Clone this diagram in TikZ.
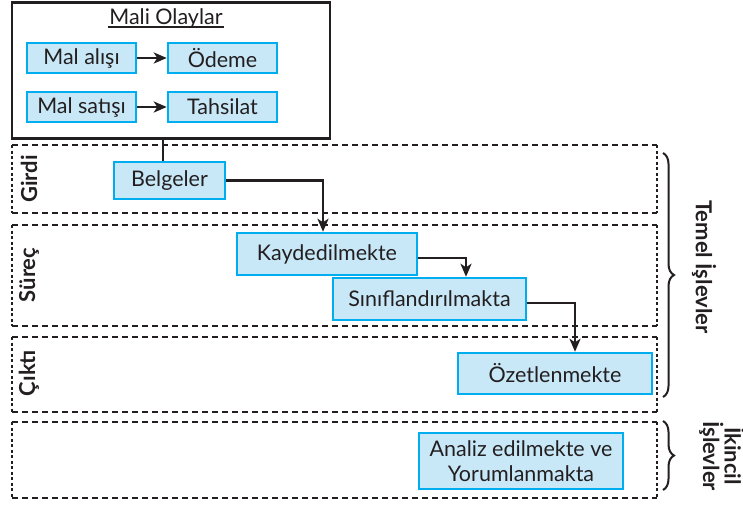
\documentclass[tikz,border=0pt]{standalone}
\usepackage{fontspec}
\setmainfont{Lato}
\usetikzlibrary{arrows.meta,decorations.pathreplacing}
\definecolor{kutumavi}{RGB}{200,232,248}
\definecolor{kenarmavi}{RGB}{0,174,239}
\definecolor{yazi}{RGB}{35,31,32}
\tikzset{
  kutu/.style={draw=kenarmavi, fill=kutumavi, line width=2.5pt, inner sep=0pt,
    text=yazi, font=\fontsize{21.5}{25}\selectfont, align=center},
  ok/.style={draw=yazi, line width=2.5pt, -{Stealth[length=13pt,width=11pt,inset=3.5pt]}},
  bolge/.style={draw=yazi, line width=2.2pt, dash pattern=on 6pt off 4pt},
  kenar/.style={draw=yazi, line width=2.2pt, dash pattern=on 3pt off 2.5pt},
  etiket/.style={text=yazi, font=\bfseries\fontsize{22}{26}\selectfont, rotate=90},
  parantez/.style={draw=yazi, line width=2pt,
    decorate, decoration={brace, amplitude=11pt}},
}
\begin{document}
\begin{tikzpicture}[x=1pt, y=-1pt]
\useasboundingbox (0,0) rectangle (743,504);
%
\node[draw=yazi, line width=2.5pt, minimum width=318pt, minimum height=136pt,
  inner sep=0pt] (mali) at (171,70.5) {}; % Mali olaylar
\node[text=yazi, font=\fontsize{21.5}{25}\selectfont, inner sep=1pt] (baslik) at (166,18)
  {Mali Olaylar};
\draw[draw=yazi, line width=1.8pt] ([yshift=2pt]baslik.south west)
  -- ([yshift=2pt]baslik.south east);
\node[kutu, minimum width=109pt, minimum height=30pt] (malalis) at (81.5,58) {Mal alışı};
\node[kutu, minimum width=109pt, minimum height=30pt] (odeme) at (222.5,58) {Ödeme};
\node[kutu, minimum width=109pt, minimum height=30pt] (malsatis) at (81.5,107) {Mal satışı};
\node[kutu, minimum width=109pt, minimum height=30pt] (tahsilat) at (222.5,107) {Tahsilat};
\draw[ok] (malalis) -- (odeme);
\draw[ok] (malsatis) -- (tahsilat);
%
\draw[bolge] (12,145) -- (657,145) (12,213) -- (657,213);
\draw[kenar] (12,145) -- (12,213) (657,145) -- (657,213); % Girdi
\draw[bolge] (12,225) -- (657,225) (12,326) -- (657,326);
\draw[kenar] (12,225) -- (12,326) (657,225) -- (657,326); % Süreç
\draw[bolge] (12,337) -- (657,337) (12,412) -- (657,412);
\draw[kenar] (12,337) -- (12,412) (657,337) -- (657,412); % Çıktı
\draw[bolge] (12,422) -- (657,422) (12,498) -- (657,498);
\draw[kenar] (12,422) -- (12,498) (657,422) -- (657,498); % ikincil
%
\node[etiket] (girdi) at (29,179) {Girdi};
\node[etiket] (surec) at (29,275) {Süreç};
\node[etiket] (cikti) at (29,373) {Çıktı};
%
\node[kutu, minimum width=111pt, minimum height=37pt] (belgeler) at (169.5,180.5) {Belgeler};
\node[kutu, minimum width=180pt, minimum height=42pt] (kaydedil) at (327,254) {Kaydedilmekte};
\node[kutu, minimum width=193pt, minimum height=42pt] (sinif) at (429.5,299) {Sınıflandırılmakta};
\node[kutu, minimum width=194pt, minimum height=41pt] (ozet) at (555,373.5) {Özetlenmekte};
\node[kutu, minimum width=204pt, minimum height=56pt] (analiz) at (521,461)
  {Analiz edilmekte ve\\Yorumlanmakta};
%
\draw[draw=yazi, line width=2.5pt] ([xshift=-8pt]mali.south)
  -- ([xshift=-8pt]mali.south |- belgeler.north);
\draw[ok] (belgeler.east) -| ([xshift=-4pt]kaydedil.north);
\draw[ok] ([yshift=-4pt]kaydedil.east) -| ([xshift=36.5pt]sinif.north);
\draw[ok] ([yshift=-4pt]sinif.east) -| ([xshift=20pt]ozet.north);
%
\draw[parantez] (663,153) -- (663,397);
\draw[parantez] (663,421) -- (663,490);
\node[etiket, rotate=180] (temel) at (704,267) {Temel İşlevler};
\node[etiket, rotate=180, align=center, font=\bfseries\fontsize{22}{19}\selectfont]
  (ikincil) at (722,456) {İkincil\\İşlevler};
\end{tikzpicture}
\end{document}
